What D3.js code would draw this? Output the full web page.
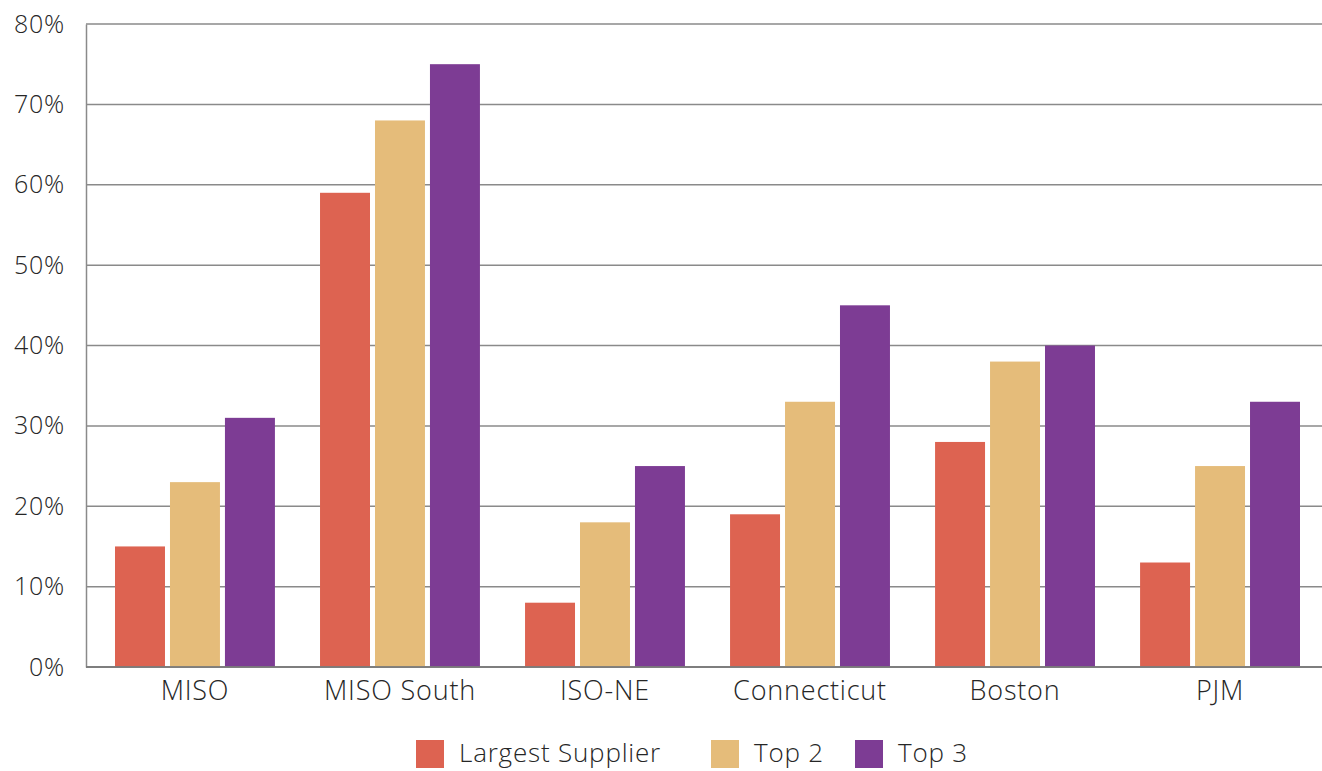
<!DOCTYPE html>
<html>
<head>
<meta charset="utf-8">
<script src="https://cdn.jsdelivr.net/npm/d3@7.9.0/dist/d3.min.js"></script>
<style>
  body { margin: 0; background: #fff; }
  svg { display: block; font-family: "Open Sans", Lato, sans-serif; font-weight: 300; }
  text { fill: #262626; letter-spacing: 0.8px; }
</style>
</head>
<body>
<svg width="1322" height="771"></svg>
<script>
// data
const regions = ["MISO", "MISO South", "ISO-NE", "Connecticut", "Boston", "PJM"];
const seriesNames = ["Largest Supplier", "Top 2", "Top 3"];
const largest = [15, 59, 8, 19, 28, 13];
const top2 = [23, 68, 18, 33, 38, 25];
const top3 = [31, 75, 25, 45, 40, 33];
const yTicks = [0, 10, 20, 30, 40, 50, 60, 70, 80];

const colors = d3.scaleOrdinal()
  .domain(seriesNames)
  .range(["#dd6351", "#e5bc7a", "#7d3c94"]);

const svg = d3.select("svg");
const plotLeft = 86, plotRight = 1322, plotTop = 24, plotBottom = 667;

const rows = regions.map((r, i) => ({
  region: r,
  values: [largest[i], top2[i], top3[i]]
}));

const y = d3.scaleLinear().domain([0, 80]).range([plotBottom, plotTop]);

const x0 = d3.scaleBand()
  .domain(regions)
  .range([plotLeft, 1329])
  .paddingInner(0.22)
  .paddingOuter(0.1415);

const x1 = d3.scaleBand()
  .domain(seriesNames)
  .range([0, x0.bandwidth()])
  .paddingInner(0.0909);

// gridlines
svg.append("g")
  .selectAll("line")
  .data(yTicks)
  .join("line")
  .attr("x1", plotLeft).attr("x2", plotRight)
  .attr("y1", d => y(d)).attr("y2", d => y(d))
  .attr("stroke", "#8a8a8a")
  .attr("stroke-width", 1.5);

// y axis
const yAxis = svg.append("g")
  .attr("transform", `translate(${plotLeft},0)`)
  .call(d3.axisLeft(y).tickValues(yTicks).tickFormat(d => d + "%").tickSize(0).tickPadding(21))
  .attr("font-family", null)
  .attr("font-size", 25);
yAxis.select(".domain").attr("stroke", "#8a8a8a").attr("stroke-width", 1.5);

// bars
svg.append("g")
  .selectAll("g")
  .data(rows)
  .join("g")
  .attr("transform", d => `translate(${x0(d.region)},0)`)
  .selectAll("rect")
  .data(d => d.values.map((v, j) => ({ key: seriesNames[j], value: v })))
  .join("rect")
  .attr("x", d => x1(d.key))
  .attr("width", x1.bandwidth())
  .attr("y", d => y(d.value))
  .attr("height", d => y(0) - y(d.value))
  .attr("fill", d => colors(d.key));

// baseline on top of the bars
svg.append("line")
  .attr("x1", plotLeft).attr("x2", plotRight)
  .attr("y1", y(0)).attr("y2", y(0))
  .attr("stroke", "#7a7a7a")
  .attr("stroke-opacity", 0.9)
  .attr("stroke-width", 2);

// x axis labels
const xAxis = svg.append("g")
  .attr("transform", `translate(0,${plotBottom})`)
  .call(d3.axisBottom(x0).tickSize(0).tickPadding(14))
  .attr("font-family", null)
  .attr("font-size", 27);
xAxis.select(".domain").remove();

// legend
const legendX = [416, 711, 855];
const legend = svg.append("g")
  .selectAll("g")
  .data(seriesNames)
  .join("g")
  .attr("transform", (d, i) => `translate(${legendX[i]},740)`);
legend.append("rect")
  .attr("width", 28).attr("height", 28)
  .attr("fill", d => colors(d));
legend.append("text")
  .attr("x", 43).attr("y", 13)
  .attr("dy", "0.35em")
  .attr("font-size", 26)
  .text(d => d);
</script>
</body>
</html>
